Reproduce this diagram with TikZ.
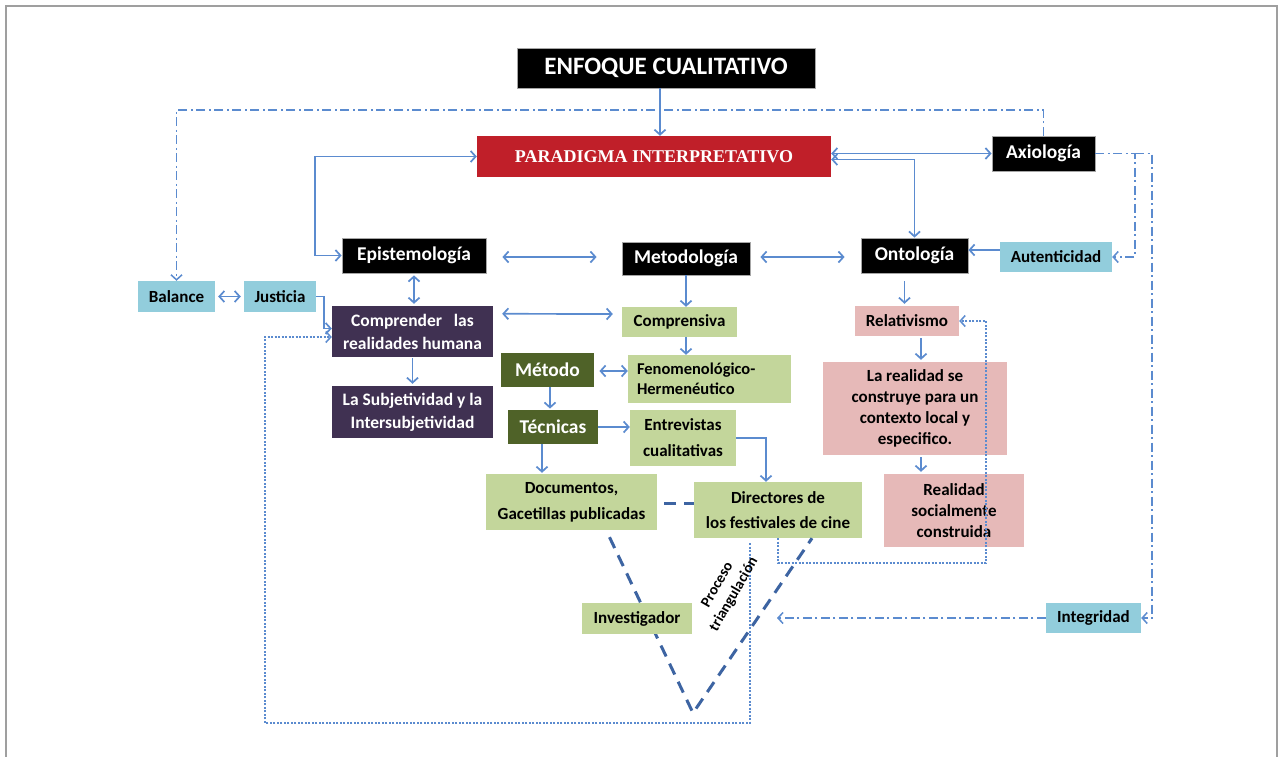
\documentclass[tikz,border=0pt]{standalone}
\usepackage{fontspec}
\setmainfont{Carlito}
\newfontfamily\parfont{Liberation Serif}
\usetikzlibrary{arrows.meta,calc}
\definecolor{arr}{HTML}{5B8BCF}
\definecolor{tdc}{HTML}{3D64A2}
\definecolor{redb}{HTML}{C01F29}
\definecolor{lblue}{HTML}{92CDDC}
\definecolor{purp}{HTML}{403152}
\definecolor{dgreen}{HTML}{4F6228}
\definecolor{lgreen}{HTML}{C3D69B}
\definecolor{pinkb}{HTML}{E6B9B8}
\tikzset{
  bx/.style={inner sep=0pt, align=center},
  blk/.style={bx, fill=black, draw=gray!70, line width=0.8pt, text=white, font=\bfseries\fontsize{19.5}{22}\selectfont},
  wtx/.style={bx, text=white, font=\bfseries\fontsize{17.5}{23}\selectfont},
  btx/.style={bx, text=black, font=\bfseries\fontsize{17}{21}\selectfont},
  tip/.style={arrows={-Straight Barb[length=5pt,width=11pt]}},
  ar/.style={draw=arr, line width=1.7pt, tip},
  ar2/.style={draw=arr, line width=1.7pt, arrows={Straight Barb[length=5pt,width=11pt]-Straight Barb[length=5pt,width=11pt]}},
  dd/.style={draw=arr, line width=1.5pt, dash pattern=on 9pt off 3.5pt on 2pt off 3.5pt},
  dt/.style={draw=arr, line width=1.5pt, dash pattern=on 2pt off 1.5pt},
  tdash/.style={draw=tdc, line width=3pt, dash pattern=on 12pt off 8pt}
}
\begin{document}
\begin{tikzpicture}[x=1pt,y=-1pt]
\useasboundingbox (0,0) rectangle (1282,757);
\fill[white] (0,0) rectangle (1282,757);
\draw[gray!75, line width=2pt] (6,757) -- (6,6) -- (1277,6) -- (1277,757);

% nodes
\node[blk, minimum width=298pt, minimum height=40pt, font=\bfseries\fontsize{25}{28}\selectfont] (enf) at (666,68) {ENFOQUE CUALITATIVO};
\node[bx, fill=redb, minimum width=354pt, minimum height=41pt, text=white, font=\parfont\bfseries\fontsize{18}{20}\selectfont] (par) at (654,156.5) {PARADIGMA INTERPRETATIVO};
\node[blk, minimum width=103pt, minimum height=35pt] (axi) at (1043.5,153.5) {Axiología};
\node[blk, minimum width=144pt, minimum height=35pt] (epi) at (414,255.5) {Epistemología};
\node[blk, minimum width=128pt, minimum height=33pt] (met) at (686,258.5) {Metodología};
\node[blk, minimum width=107pt, minimum height=35pt] (ont) at (914.5,255.5) {Ontología};
\node[btx, fill=lblue, minimum width=112pt, minimum height=30pt] (aut) at (1056,257) {Autenticidad};
\node[btx, fill=lblue, minimum width=77pt, minimum height=31pt] (bal) at (176.5,296.5) {Balance};
\node[btx, fill=lblue, minimum width=72pt, minimum height=31pt] (jus) at (280,296.5) {Justicia};
\node[wtx, fill=purp, minimum width=161pt, minimum height=51pt] (com) at (412.5,331.5) {Comprender\ \ \ las\\realidades humana};
\node[wtx, fill=purp, minimum width=161pt, minimum height=52pt] (sub) at (412.5,412) {La Subjetividad y la\\Intersubjetividad};
\node[btx, fill=lgreen, minimum width=115pt, minimum height=30pt] (cps) at (679.5,322) {Comprensiva};
\node[blk, fill=dgreen, draw=none, minimum width=93pt, minimum height=34pt] (mto) at (547.5,370) {Método};
\node[btx, fill=lgreen, minimum width=163pt, minimum height=48pt, text width=145pt, align=left, font=\bfseries\fontsize{16.5}{19.5}\selectfont] (fen) at (709.5,379) {Fenomenológico-\\Hermenéutico};
\node[blk, fill=dgreen, draw=none, minimum width=90pt, minimum height=34pt] (tec) at (553,427) {Técnicas};
\node[btx, fill=lgreen, minimum width=106pt, minimum height=56pt, font=\bfseries\fontsize{17}{26}\selectfont] (ent) at (683,438) {Entrevistas\\cualitativas};
\node[btx, fill=lgreen, minimum width=171pt, minimum height=56pt, font=\bfseries\fontsize{17}{26}\selectfont] (doc) at (571.5,502) {Documentos,\\Gacetillas publicadas};
\node[btx, fill=lgreen, minimum width=168pt, minimum height=56pt, font=\bfseries\fontsize{17}{25}\selectfont] (dir) at (778,510) {Directores de\\los festivales de cine};
\node[btx, fill=pinkb, minimum width=104pt, minimum height=30pt] (rel) at (907,321) {Relativismo};
\node[btx, fill=pinkb, minimum width=184pt, minimum height=93pt] (lar) at (915,408.5) {La realidad se\\construye para un\\contexto local y\\especifico.};
\node[btx, fill=pinkb, minimum width=140pt, minimum height=73pt] (res) at (954,510.5) {Realidad\\socialmente\\construida};
\node[btx, fill=lblue, minimum width=95pt, minimum height=30pt] (itg) at (1093.5,618) {Integridad};

% helper coordinates
\coordinate (top) at (0,110);
\coordinate (c315) at (315,0);
\coordinate (c324) at (324,0);
\coordinate (c1135) at (1135,0);
\coordinate (c1152) at (1152,0);
\coordinate (c777) at (777,0);
\coordinate (d1) at (986,563);
\coordinate (d2) at (265,723);
\coordinate (apex) at (693,713);

% solid arrows
\draw[ar] ([xshift=-6pt]enf.south) -- ([xshift=6pt]par.north);
\draw[ar2] (par.east |- axi.west) -- (axi.west);
\draw[ar2] ([yshift=-3pt]par.east) -| (ont.north);
\draw[ar2] (par.west) -- (par.west -| c315) |- (epi.west);
\draw[ar2] ($(epi.east)+(16,1.5)$) -- ($(met.west)+(-25,-1.5)$);
\draw[ar2] ($(met.east)+(10,-1.5)$) -- ($(ont.west)+(-16,1.5)$);
\coordinate (a1) at ([yshift=7pt]aut.west);
\draw[ar] (a1) -- (a1 -| ont.east);
\draw[ar2] ($(bal.east)+(3,0)$) -- ($(jus.west)+(-3,0)$);
\draw[ar] (jus.east) -- (jus.east -| c324) |- ([yshift=3pt]com.west);
\draw[ar2] ($(epi.south)+(0,2)$) -- ($(epi.south |- com.north)+(0,-2)$);
\draw[ar2] ($(com.north east)+(9,8)$) -- ($(cps.west)+(-9,-8)$);
\draw[ar] (met.south) -- (met.south |- cps.north);
\draw[ar] (cps.south -| met.south) -- (met.south |- fen.north);
\draw[ar] ($(com.south)+(0,1)$) -- ($(sub.north)+(0,-2)$);
\draw[ar2] ($(mto.east)+(5,1)$) -- ($(mto.east -| fen.west)+(0,1)$);
\draw[ar] ($(mto.south)+(2.5,0)$) -- ($(tec.north)+(-3,-1)$);
\draw[ar] (tec.east) -- (tec.east -| ent.west);
\draw[ar] (ent.east) -| ($(dir.north)+(-12,0)$);
\draw[ar] ($(tec.south)+(-11,0)$) -- ($(tec.south |- doc.north)+(-11,-1)$);
\draw[ar] ($(ont.south)+(-10,8)$) -- ($(ont.south |- rel.north)+(-10,-2)$);
\draw[ar] ($(rel.south)+(14,2)$) -- ($(rel.south |- lar.north)+(14,-2)$);
\draw[ar] ($(lar.south)+(6,2)$) -- ($(lar.south |- res.north)+(6,-2)$);

% dash-dot connectors
\draw[dd, tip] (axi.north) -- (axi.north |- top) -- (bal.north |- top) -- (bal.north);
\draw[dd, tip] (axi.east) -- (axi.east -| c1135) |- (aut.east);
\draw[dd, tip] (axi.east -| c1135) -- (axi.east -| c1152) |- (itg.east);
\draw[dd, tip] (itg.west) -- (itg.west -| c777);

% dotted connectors
\draw[dt, tip] (dir.south) |- (d1) |- (rel.east);
\draw[dt, tip] ($(dir.south)+(-28,5)$) |- (d2) |- ($(com.west)+(0,5.5)$);

% triangulation
\draw[tdash] ($(doc.east)+(7,1)$) -- ($(dir.west |- doc.east)+(0,1)$);
\draw[tdash] ($(doc.south)+(38,7)$) -- (apex) -- ($(dir.south)+(34,0)$);
\node[btx, fill=lgreen, minimum width=110pt, minimum height=31pt] (inv) at (637,618.5) {Investigador};
\node[bx, rotate=60, font=\bfseries\fontsize{15}{19}\selectfont] (pt) at (726,590) {Proceso\\triangulación};
\end{tikzpicture}
\end{document}
